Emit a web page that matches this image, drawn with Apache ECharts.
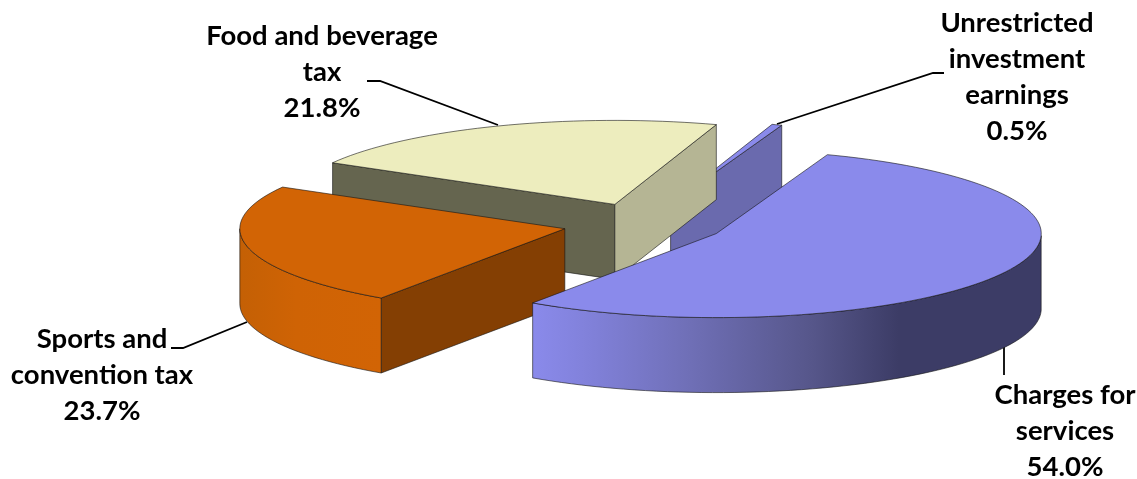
<!DOCTYPE html>
<html><head><meta charset="utf-8">
<style>html,body{margin:0;padding:0;background:#fff}#c{width:1137px;height:479px}</style>
<script src="https://cdn.jsdelivr.net/npm/echarts@6/dist/echarts.min.js"></script>
</head><body><div id="c"></div>
<script>
const categories = ['Charges for\nservices', 'Sports and\nconvention tax', 'Food and beverage\ntax', 'Unrestricted\ninvestment\nearnings'];
const shares = [54.0, 23.7, 21.8, 0.5];

// Drawing configuration (separate from the data)
const firstAngle = 20, centre = [644, 224], rx = 325, ry = 84, depth = 75, explode = 0.25;
const paintOrder = [3, 2, 1, 0];
const looks = [
  {top:'#8A8AEB', start:'#6A6AAE', end:'#6A6AAE',
   wall:[[0,'#8A8AEB'],[0.12,'#8080D8'],[0.3,'#7070B8'],[0.55,'#56568A'],[0.72,'#3C3C66'],[1,'#3C3C66']]},
  {top:'#D26405', start:'#843F03', end:'#843F03',
   wall:[[0,'#C46005'],[0.4,'#CF6305'],[1,'#D26405']]},
  {top:'#EDEDBE', start:'#65654F', end:'#B5B594', wall:[[0,'#B5B594'],[1,'#B5B594']]},
  {top:'#8A8AEB', start:'#6A6AAE', end:'#6A6AAE', wall:[[0,'#6A6AAE'],[1,'#6A6AAE']]}
];
const labelAnchors = [[1065, 395], [102, 339], [322, 36], [1017, 23]];
const leaders = [
  [[1004,340],[1004,375]],
  [[171,348],[183,348],[247,322]],
  [[367,81],[380,81],[498,125]],
  [[944,73],[933,73],[777,124]]
];
const lineH = 36;
const edge = 'rgba(20,20,20,0.75)';

const total = shares.reduce((a, b) => a + b, 0);
function sliceAngles(i) {
  let before = 0;
  for (let k = 0; k < i; k++) before += shares[k];
  return [firstAngle + before / total * 360, firstAngle + (before + shares[i]) / total * 360];
}
const rad = d => d * Math.PI / 180;

function renderItem(params, api) {
  const i = params.dataIndex;
  const [a0, a1] = sliceAngles(i);
  const mid = rad((a0 + a1) / 2);
  const tip = [centre[0] + explode * rx * Math.sin(mid), centre[1] - explode * ry * Math.cos(mid)];
  const pt = d => [tip[0] + rx * Math.sin(rad(d)), tip[1] - ry * Math.cos(rad(d))];
  const down = p => [p[0], p[1] + depth];
  const arc = [];
  const n = Math.max(3, Math.ceil((a1 - a0) / 2));
  for (let k = 0; k <= n; k++) arc.push(a0 + (a1 - a0) * k / n);
  const L = looks[i];
  const rank = paintOrder.indexOf(i) * 10 + 10;
  const poly = (points, fill, z) => ({
    type: 'polygon', z2: rank + z, shape: {points},
    style: {fill, stroke: edge, lineWidth: 0.8, lineJoin: 'round'}
  });
  const kids = [];
  // radial walls: only those facing the viewer
  if (Math.sin(rad(a0)) < 0) kids.push(poly([tip, pt(a0), down(pt(a0)), down(tip)], L.start, 0));
  if (Math.sin(rad(a1)) > 0) kids.push(poly([tip, pt(a1), down(pt(a1)), down(tip)], L.end, 1));
  // outer curved wall: only the part that faces the viewer
  const front = arc.filter(d => { const m = ((d % 360) + 360) % 360; return m >= 90 && m <= 270; });
  if (front.length > 1) {
    const topEdge = front.map(pt);
    const xs = topEdge.map(p => p[0]);
    const minX = Math.min(...xs), maxX = Math.max(...xs);
    kids.push(poly(topEdge.concat(topEdge.map(down).reverse()), {
      type: 'linear', global: true, x: minX, y: 0, x2: maxX, y2: 0,
      colorStops: L.wall.map(s => ({offset: s[0], color: s[1]}))
    }, 2));
  }
  kids.push(poly([tip].concat(arc.map(pt)), L.top, 3));
  // label
  const lines = categories[i].split('\n').concat([shares[i].toFixed(1) + '%']);
  lines.forEach((t, li) => kids.push({
    type: 'text', z2: 100,
    style: {text: t, x: labelAnchors[i][0], y: labelAnchors[i][1] + li * lineH,
      align: 'center', verticalAlign: 'middle', fill: '#000',
      font: 'bold 27.5px Lato, sans-serif'}
  }));
  return {type: 'group', children: kids};
}

const chart = echarts.init(document.getElementById('c'));
chart.setOption({
  animation: false,
  backgroundColor: '#fff',
  graphic: leaders.map(pts => ({
    type: 'polyline', z: 0, shape: {points: pts},
    style: {stroke: '#000', lineWidth: 1.8, fill: null}
  })),
  series: [{
    type: 'custom', coordinateSystem: 'none', z: 2,
    data: shares.map((v, i) => [v, i]),
    renderItem
  }]
});
</script></body></html>
